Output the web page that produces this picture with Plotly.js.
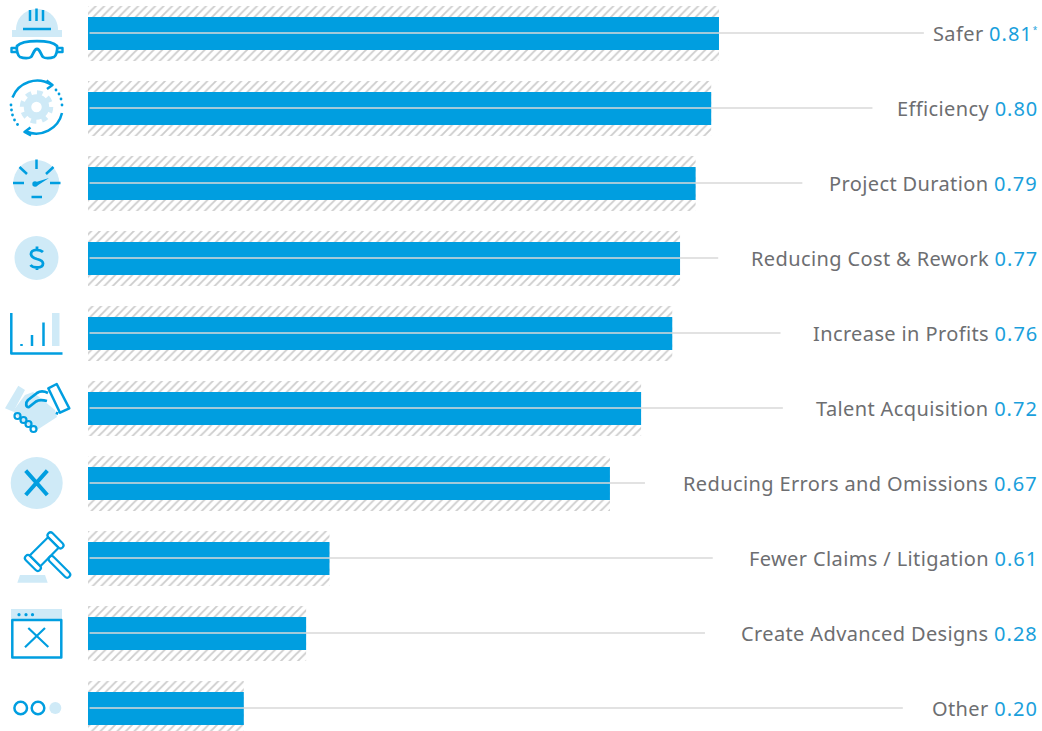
<!DOCTYPE html>
<html><head><meta charset="utf-8">
<script src="https://cdn.plot.ly/plotly-3.0.1.min.js"></script>
<style>html,body{margin:0;padding:0;background:#fff;overflow:hidden}</style>
</head><body><div id="chart" style="width:1042px;height:731px"></div>
<script>
const categories = ["Safer","Efficiency","Project Duration","Reducing Cost & Rework","Increase in Profits","Talent Acquisition","Reducing Errors and Omissions","Fewer Claims / Litigation","Create Advanced Designs","Other"];
const scoreLabels = ["0.81","0.80","0.79","0.77","0.76","0.72","0.67","0.61","0.28","0.20"];
const notes = ["*","","","","","","","","",""];
// bar lengths as drawn in the picture
const barLengths = [0.81,0.80,0.78,0.76,0.75,0.71,0.67,0.31,0.28,0.20];
// where each grey leader line ends
const leaderEnds = [1.073,1.007,0.917,0.809,0.889,0.892,0.715,0.802,0.792,1.046];

const BLUE="#009ee0", LIGHT="#cfeaf7", GREY="#6d6e71", NUM="#1a9fdc";
const W=1042,H=731,PX_PER_UNIT=779,ROW=75,ROW0=33.5,LEFT=88;

const icons = `<svg xmlns="http://www.w3.org/2000/svg" width="88" height="731" viewBox="0 0 88 731">
<g fill="none" stroke="${BLUE}" stroke-width="2.5" stroke-linecap="butt" stroke-linejoin="round">
<!-- helmet -->
<path d="M16 30C16 17 26 9 37 9C48 9 58 17 58 30Z" fill="${LIGHT}" stroke="none"/>
<rect x="12" y="30" width="50" height="7" fill="${LIGHT}" stroke="none"/>
<path d="M30 10V21M36.500 8.500V21M43 10V21M23 29H51"/>
<path d="M17 46C23 39.500 51 39.500 57 46C58 50 56 56 54 57C50 58.500 45 58.500 43 57C41 55 40 49 37 49C34 49 33 55 31 57C29 58.500 24 58.500 20 57C18 56 16 50 17 46Z" stroke-width="2.800"/>
<path d="M17 48H11.500V52H17M57 48H62.500V52H57" stroke-width="2.400"/>
<!-- gear -->
<circle cx="36.500" cy="107" r="9" stroke="${LIGHT}" stroke-width="7.500"/>
<circle cx="36.500" cy="107" r="14" stroke="${LIGHT}" stroke-width="5.500" stroke-dasharray="5.500 5.500"/>
<path d="M12.500 97.500A26.500 26.500 0 0 1 51 84.500M62 113A26.500 26.500 0 0 1 26 131.500"/>
<path d="M46.500 80.500L52.500 85L47 89M30.500 127.500L24.500 132L31 135.500"/>
<g fill="${BLUE}" stroke="none"><circle cx="56" cy="90" r="1.400"/><circle cx="59" cy="94" r="1.400"/><circle cx="61" cy="99" r="1.400"/><circle cx="62" cy="105" r="1.400"/><circle cx="11" cy="105" r="1.400"/><circle cx="11.500" cy="110" r="1.400"/><circle cx="12.500" cy="115" r="1.400"/><circle cx="14.500" cy="120" r="1.400"/><circle cx="17.500" cy="124.500" r="1.400"/></g>
<!-- gauge -->
<circle cx="36.300" cy="183" r="23" fill="${LIGHT}" stroke="none"/>
<path d="M36.500 159.500V169M19.500 167L27 174M46 174L53.500 167M13 183H24M50 183H60.500M31.500 197H42"/>
<path d="M33 183L49 178L36 186.500Z" fill="${BLUE}" stroke="none"/><circle cx="35" cy="184" r="2.700" fill="${BLUE}" stroke="none"/>
<!-- dollar -->
<circle cx="36.500" cy="258" r="22" fill="${LIGHT}" stroke="none"/>
<path d="M43 252C41 250 38.500 249.800 36.500 249.800C33 249.800 31 252 31 254C31 257 33.500 258 37 259C41 260 43 261 43 263.500C43 266 40.500 267.500 37 267.500C34 267.500 32 267 30.500 265M37 246.500V250M37 267V270" stroke-width="2.800"/>
<!-- bars -->
<rect x="52" y="313" width="7.500" height="33" fill="${LIGHT}" stroke="none"/>
<path d="M11.300 313V353.500H62.500M21.500 344V346M32 335V346M43.500 322.500V346"/>
<!-- handshake -->
<path d="M5 408.300L18.300 385.700L25 390L13.300 411.700Z" fill="${LIGHT}" stroke="none"/>
<path d="M13 411L25 395L33 392L55 410L57 417L37 430L20 420Z" fill="${LIGHT}" stroke="none"/>
<path d="M48.300 388.300L56.700 384L69.300 408.300L60 412.700ZM57.500 412L56.500 414.500"/>
<path d="M48 393C44 391 40 391 37 393L28 400C25 403 26 408 29 407L36 401.500C39 399.500 43 400 47 401" stroke-width="2.800"/>
<g stroke-width="2.200"><circle cx="17.500" cy="416" r="3"/><circle cx="23.500" cy="420" r="3"/><circle cx="28.500" cy="424" r="3"/><circle cx="33.500" cy="429" r="3"/></g>
<!-- cross -->
<circle cx="36.700" cy="483" r="26" fill="${LIGHT}" stroke="none"/>
<path d="M25.700 470.700L47.300 495M47.300 470.700L25.700 495" stroke-width="4"/>
<!-- gavel -->
<path d="M17.300 582.700L20 575H45L47.700 582.700Z" fill="${LIGHT}" stroke="none"/>
<g transform="translate(44.200 551.700) rotate(-45)" stroke-width="2.200">
<rect x="-13" y="-7.500" width="26" height="15"/><rect x="13" y="-10" width="6" height="20" rx="3"/><rect x="-19" y="-10" width="6" height="20" rx="3"/><rect x="-3" y="7.500" width="6" height="28" rx="3"/></g>
<!-- window -->
<rect x="11" y="609" width="51" height="10" fill="${LIGHT}" stroke="none"/>
<g fill="${BLUE}" stroke="none"><circle cx="19" cy="614.700" r="1.600"/><circle cx="26" cy="614.700" r="1.600"/><circle cx="32.500" cy="614.700" r="1.600"/></g>
<rect x="12.300" y="620" width="49" height="37.500"/>
<path d="M28.300 628L48.300 647M45 628L25 647.300" stroke-width="2.200"/>
<!-- other -->
<circle cx="20.700" cy="708" r="6.300"/><circle cx="38" cy="708" r="6.300"/><circle cx="55.300" cy="708" r="6" fill="${LIGHT}" stroke="none"/>
</g></svg>`;

const hatch = {type:"bar",orientation:"h",y:categories,x:barLengths,width:55/ROW,
  marker:{color:"#fff",line:{width:0},pattern:{shape:"/",fgcolor:"#cccccc",bgcolor:"#fff",size:6,solidity:0.3}},hoverinfo:"skip"};
const solid = {type:"bar",orientation:"h",y:categories,x:barLengths,width:33/ROW,
  marker:{color:BLUE,line:{width:0}},hoverinfo:"skip"};
const lx=[],ly=[];
categories.forEach((c,i)=>{lx.push(0.002,leaderEnds[i],null);ly.push(c,c,null);});
const leaders = {type:"scatter",mode:"lines",x:lx,y:ly,yaxis:"y2",line:{color:"#d9d9d9",width:1.3},hoverinfo:"skip",connectgaps:false};

const annotations = categories.map((c,i)=>({
  xref:"paper",yref:"y",x:(notes[i]?1040:1039.5)/W,y:c,xanchor:"right",yanchor:"middle",showarrow:false,align:"right",yshift:0,
  text:`<span style="letter-spacing:0.38px">${c.replace("&","&amp;")} </span><span style="color:${NUM};letter-spacing:1px">${scoreLabels[i]}</span>`+(notes[i]?`<sup style="color:${NUM}"><span style="font-size:60%">${notes[i]}</span></sup>`:""),
  font:{family:"Noto Sans, sans-serif",size:20,color:GREY}
}));

const catAxis = {type:"category",categoryorder:"array",categoryarray:categories,visible:false,fixedrange:true};
const layout = {
  width:W,height:H,margin:{l:0,r:0,t:0,b:0},paper_bgcolor:"#fff",plot_bgcolor:"#fff",
  showlegend:false,barmode:"overlay",
  xaxis:{range:[-LEFT/PX_PER_UNIT,(W-LEFT)/PX_PER_UNIT],visible:false,fixedrange:true},
  yaxis:Object.assign({},catAxis,{range:[(H-ROW0)/ROW,-ROW0/ROW]}),
  yaxis2:Object.assign({},catAxis,{overlaying:"y",range:[(H-ROW0+0.5)/ROW,-(ROW0-0.5)/ROW]}),
  annotations,
  images:[{source:"data:image/svg+xml;charset=utf-8,"+encodeURIComponent(icons),xref:"paper",yref:"paper",
    x:0,y:1,sizex:88/W,sizey:1,xanchor:"left",yanchor:"top",sizing:"stretch",layer:"above"}]
};
Plotly.newPlot("chart",[hatch,solid,leaders],layout,{displayModeBar:false,staticPlot:true});
</script></body></html>
